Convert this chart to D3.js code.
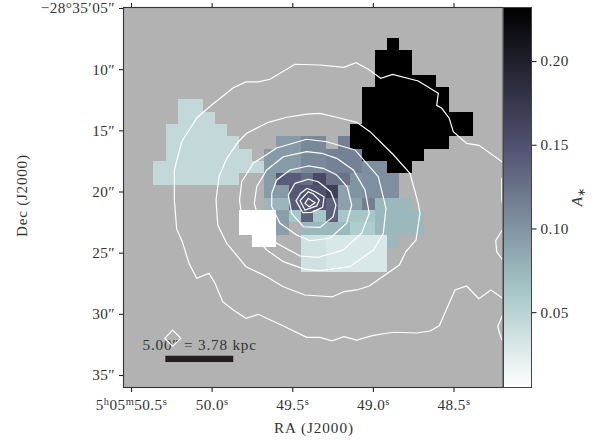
<!DOCTYPE html>
<html><head><meta charset="utf-8">
<script src="https://cdnjs.cloudflare.com/ajax/libs/d3/7.8.5/d3.min.js"></script>
<style>
html,body{margin:0;padding:0;background:#fff}
svg{display:block}
text{font-family:"Liberation Serif",serif;fill:#333}
</style></head><body>
<svg id="c" width="608" height="441"></svg>
<script>
const raTicks = [50.5, 50.0, 49.5, 49.0, 48.5];
const raLabels = [["5","h","05","m","50.5","s"], ["50.0","s"], ["49.5","s"], ["49.0","s"], ["48.5","s"]];
const decTicks = [5, 10, 15, 20, 25, 30, 35];
const decLabels = ["\u221228\u00b035\u203205\u2033", "10\u2033", "15\u2033", "20\u2033", "25\u2033", "30\u2033", "35\u2033"];
const cbarTicks = [0.05, 0.10, 0.15, 0.20];
const vMin = 0.005, vMax = 0.232;
const xTitle = "RA (J2000)", yTitle = "Dec (J2000)";
const scaleText = "5.00\u2033 = 3.78 kpc";

// colormap stops (position, colour)
const cmapStops = [0, 0.254, 0.635, 1];
const cmapColors = ["#ffffff", "#a6c7c7", "#515171", "#000000"];

// map cells as [row, firstColumn, runLength, value]
const K = vMax, Z = vMin, L = 0.044;
const mapCells = [
 [-5,19,1,K],[-4,18,3,K],[-3,18,3,K],[-2,18,5,K],[-1,17,7,K],
 [0,2,2,L],[0,17,7,K],
 [1,2,3,L],[1,17,9,K],
 [2,1,5,L],[2,16,10,K],
 [3,1,6,L],[3,10,2,.095],[3,12,2,.108],[3,15,1,.115],[3,16,8,K],
 [4,1,7,L],[4,9,3,.095],[4,12,2,.108],[4,14,3,.113],[4,17,5,K],
 [5,0,9,L],[5,9,3,.095],[5,12,2,.108],[5,14,3,.113],[5,17,2,.103],[5,19,2,K],
 [6,0,7,L],[6,9,1,.095],[6,10,2,.141],[6,12,1,.128],[6,13,1,.157],[6,14,2,.125],[6,16,1,.100],[6,17,3,.103],
 [7,9,2,.095],[7,11,1,.145],[7,12,2,.149],[7,14,1,.168],[7,15,1,.090],[7,16,1,.100],[7,17,3,.103],
 [8,9,2,.075],[8,11,1,.141],[8,12,2,.149],[8,14,1,.137],[8,15,2,.090],[8,17,1,.116],[8,18,3,.074],
 [9,7,3,Z],[9,10,1,.093],[9,11,1,.063],[9,12,1,.137],[9,13,1,.063],[9,14,1,.137],[9,15,3,.063],[9,18,4,.074],
 [10,7,3,Z],[10,10,1,.093],[10,12,4,.074],[10,16,2,.056],[10,18,4,.074],
 [11,8,2,Z],[11,12,2,.036],[11,14,5,.030],[11,19,1,.074],
 [12,12,2,.036],[12,14,5,.030],
 [13,12,2,.036],[13,14,5,.030]
];

// contours in map cell units [column, row]
const contourOpen = [
 [[28.41,16.18],[27.45,15.50],[26.46,16.21],[25.48,15.18],[24.53,15.50],[23.25,18.41],[22.50,18.84],[21.41,19.00],[19.51,18.94],[17.89,19.19],[16.54,19.57],[15.50,19.30],[14.53,19.63],[13.55,19.35],[12.47,19.35],[10.57,18.43],[8.54,17.48],[7.54,17.80],[6.50,17.13],[5.64,16.45],[5.02,14.96],[4.53,14.15],[3.53,14.55],[2.90,13.33],[2.36,11.58],[1.90,10.54],[1.71,8.19],[1.71,5.75],[2.31,3.45],[3.58,1.46],[4.75,0.46],[6.50,-0.94],[7.54,-1.41],[8.54,-1.41],[9.49,-1.63],[11.52,-2.85],[13.55,-2.79],[15.50,-2.60],[16.48,-2.98],[17.48,-2.44],[18.49,-1.71],[19.46,-2.03],[21.54,-1.49],[23.17,-0.49],[23.04,0.49],[23.45,0.73],[24.06,1.54],[24.39,2.63],[25.48,3.58],[26.48,3.74],[28.41,5.12]],
 [[28.33,6.40],[28.34,8.19],[28.43,8.67]],
 [[28.37,10.63],[27.84,11.50],[27.92,12.39],[28.37,13.01]],
 [[28.37,17.59],[28.00,18.49],[28.33,19.57]]
];
const contourClosed = [
 [[13.55,1.14],[12.47,1.20],[10.85,1.46],[9.35,1.87],[7.59,2.76],[6.91,3.45],[5.97,4.80],[5.34,6.29],[5.10,8.19],[5.24,10.22],[5.97,11.71],[7.54,13.61],[9.22,14.42],[10.57,15.24],[12.33,15.91],[13.55,15.99],[14.53,16.07],[15.50,15.64],[16.54,15.50],[17.56,15.18],[20.00,13.47],[20.54,12.39],[21.36,11.44],[21.68,9.27],[21.54,8.46],[20.87,6.02],[19.46,4.45],[17.62,2.63],[16.54,1.87],[14.91,1.46]],
 [[12.47,3.25],[10.03,3.96],[8.13,5.20],[7.19,6.70],[7.01,8.19],[7.19,9.54],[7.86,10.71],[9.22,12.25],[10.57,13.20],[12.33,13.82],[13.55,13.93],[15.99,13.61],[17.89,12.25],[18.70,10.89],[18.92,8.86],[18.29,6.29],[16.40,4.12],[14.10,3.45]],
 [[12.47,4.26],[10.57,4.67],[9.22,5.75],[8.41,7.11],[8.21,8.46],[8.67,10.08],[10.03,11.71],[11.93,12.74],[13.41,12.85],[15.45,12.25],[16.94,10.89],[17.56,9.27],[17.21,7.37],[16.26,5.75],[14.91,4.80],[13.69,4.39]],
 [[12.60,5.42],[11.11,5.75],[10.03,6.56],[9.63,7.64],[9.63,8.73],[10.30,10.08],[11.66,11.03],[12.74,11.50],[14.37,11.30],[15.72,10.08],[16.13,8.59],[15.77,7.11],[14.91,6.15],[13.82,5.61]],
 [[12.60,6.50],[11.52,6.83],[10.98,7.78],[11.25,9.27],[12.20,10.36],[13.55,10.41],[14.63,9.54],[14.85,8.59],[14.42,7.51],[13.41,6.70]],
 [[12.52,7.24],[11.98,7.64],[11.60,8.24],[12.15,9.22],[12.88,9.19],[13.77,8.78],[13.88,7.92],[13.15,7.51]],
 [[12.60,7.51],[11.93,8.24],[12.33,9.00],[13.28,8.67],[13.50,8.19],[13.01,7.70]],
 [[12.60,8.05],[12.33,8.46],[12.68,8.73],[13.15,8.41]]
];
// beam diamond and scale bar, in map cell units
const beamCorners = [[1.58,18.77],[2.24,19.43],[1.58,20.09],[0.92,19.43]];
const scaleBar = [[0.98,20.85],[6.5,21.36]];

const P = {l:123.5, r:502.5, t:7.5, b:387.5};
const CB = {l:503.5, r:531.5};
const FS = 15.2, LS = 0.45;
const svg = d3.select("#c");

const xRA = d3.scaleLinear().domain([50.5,48.5]).range([131,453.5]);
const yDec = d3.scaleLinear().domain([5,35]).range([8,375]);
const mapX = d3.scaleLinear().domain([0,1]).range([153.3,165.6]);
const mapY = d3.scaleLinear().domain([0,1]).range([99.3,111.6]);
const cbarY = d3.scaleLinear().domain([vMin,vMax]).range([P.b,P.t]);
const cmap = d3.scaleLinear().domain(cmapStops).range(cmapColors).interpolate(d3.interpolateRgb);
const colorOf = v => cmap((v-vMin)/(vMax-vMin));

svg.append("defs").append("clipPath").attr("id","pc").append("rect")
  .attr("x",P.l).attr("y",P.t).attr("width",P.r-P.l).attr("height",P.b-P.t);

svg.append("rect").attr("x",P.l).attr("y",P.t).attr("width",P.r-P.l).attr("height",P.b-P.t).attr("fill","#b2b2b2");

const plot = svg.append("g").attr("clip-path","url(#pc)");
plot.append("g").selectAll("rect").data(mapCells).join("rect")
  .attr("x",d=>mapX(d[1])).attr("y",d=>mapY(d[0]))
  .attr("width",d=>mapX(d[1]+d[2])-mapX(d[1])).attr("height",mapY(1)-mapY(0))
  .attr("shape-rendering","crispEdges")
  .attr("fill",d=>colorOf(d[3]));

const line = d3.line().x(d=>mapX(d[0])).y(d=>mapY(d[1]));
const lineC = d3.line().x(d=>mapX(d[0])).y(d=>mapY(d[1])).curve(d3.curveLinearClosed);
plot.append("g").selectAll("path.o").data(contourOpen).join("path")
  .attr("d",line).attr("fill","none").attr("stroke","#fff").attr("stroke-width",1.2);
plot.append("g").selectAll("path.c").data(contourClosed).join("path")
  .attr("d",lineC).attr("fill","none").attr("stroke","#fff").attr("stroke-width",1.2);

// scale annotation
svg.append("text").attr("x",142.5).attr("y",350).attr("font-size",FS)
  .attr("textLength",113.5).attr("lengthAdjust","spacing").text(scaleText);
svg.append("path").datum(beamCorners).attr("d",lineC).attr("fill","none").attr("stroke","#fff").attr("stroke-width",1.2);
svg.append("rect").attr("x",mapX(scaleBar[0][0])).attr("y",mapY(scaleBar[0][1]))
  .attr("width",mapX(scaleBar[1][0])-mapX(scaleBar[0][0])).attr("height",mapY(scaleBar[1][1])-mapY(scaleBar[0][1]))
  .attr("fill","#231f20");

// axes
function styleAxis(g){ g.select(".domain").remove(); g.selectAll(".tick line").attr("stroke","#222").attr("stroke-width",1.1); }
function styleText(sel){ sel.attr("font-size",FS).attr("font-family","Liberation Serif").attr("fill","#333").attr("letter-spacing",LS); }
const axB = svg.append("g").attr("transform",`translate(0,${P.b})`)
  .call(d3.axisBottom(xRA).tickValues(raTicks).tickSize(4.5).tickFormat(""));
styleAxis(axB);
axB.selectAll(".tick").each(function(d,i){
  const t = d3.select(this).select("text").attr("dy",null).attr("y",22.5).attr("text-anchor","middle")
    .attr("fill","#333").attr("font-family","Liberation Serif").attr("letter-spacing",LS);
  raLabels[i].forEach((s,k)=>{
    const sup = k%2===1;
    t.append("tspan").attr("font-size",sup?10.5:FS).attr("dy",sup?-5.5:(k>0?5.5:0)).text(s);
  });
});
const axT = svg.append("g").attr("transform",`translate(0,${P.t})`)
  .call(d3.axisTop(xRA).tickValues(raTicks).tickSize(4.5).tickFormat(""));
styleAxis(axT);
const axL = svg.append("g").attr("transform",`translate(${P.l},0)`)
  .call(d3.axisLeft(yDec).tickValues(decTicks).tickSize(4.5).tickPadding(4).tickFormat((d,i)=>decLabels[i]));
styleAxis(axL);
styleText(axL.selectAll("text"));

svg.append("text").attr("x",313.5).attr("y",433).attr("text-anchor","middle").attr("font-size",FS)
  .attr("textLength",79).attr("lengthAdjust","spacing").text(xTitle);
svg.append("text").attr("transform","translate(27,196) rotate(-90)").attr("text-anchor","middle").attr("font-size",FS)
  .attr("textLength",82).attr("lengthAdjust","spacing").text(yTitle);

// colour bar
const grad = svg.select("defs").append("linearGradient").attr("id","cb").attr("x1",0).attr("x2",0).attr("y1",1).attr("y2",0);
grad.selectAll("stop").data(cmapStops).join("stop").attr("offset",d=>d).attr("stop-color",(d,i)=>cmapColors[i]);
svg.append("rect").attr("x",CB.l).attr("y",P.t).attr("width",CB.r-CB.l).attr("height",P.b-P.t).attr("fill","url(#cb)");
const axC = svg.append("g").attr("transform",`translate(${CB.r},0)`)
  .call(d3.axisRight(cbarY).tickValues(cbarTicks).tickSize(5).tickPadding(4).tickFormat(d3.format(".2f")));
styleAxis(axC);
styleText(axC.selectAll("text"));
const cl = svg.append("text").attr("transform","translate(582,197) rotate(-90)").attr("text-anchor","middle").attr("font-size",FS);
cl.append("tspan").attr("font-style","italic").text("A");
cl.append("tspan").attr("font-size",10.5).attr("dy",3).text("\u2217");

// frames
svg.append("rect").attr("x",P.l).attr("y",P.t).attr("width",P.r-P.l+0.5).attr("height",P.b-P.t).attr("fill","none").attr("stroke","#333").attr("stroke-width",1.1);
svg.append("rect").attr("x",CB.l).attr("y",P.t).attr("width",CB.r-CB.l).attr("height",P.b-P.t).attr("fill","none").attr("stroke","#444").attr("stroke-width",1);
</script>
</body></html>
